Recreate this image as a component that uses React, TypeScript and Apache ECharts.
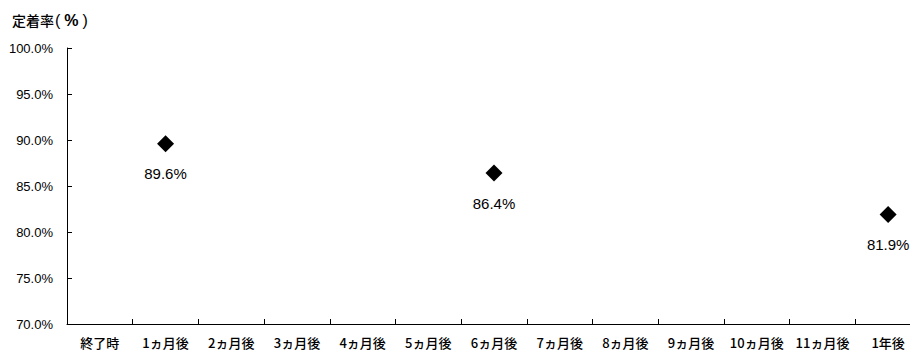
import React, { useEffect, useRef } from "react";
import * as echarts from "echarts";

// Follow-up points along the horizontal axis
const categories = [
  "終了時",
  "1ヵ月後",
  "2ヵ月後",
  "3ヵ月後",
  "4ヵ月後",
  "5ヵ月後",
  "6ヵ月後",
  "7ヵ月後",
  "8ヵ月後",
  "9ヵ月後",
  "10ヵ月後",
  "11ヵ月後",
  "1年後",
];

// Measured retention rates (%)
const measuredAt = ["1ヵ月後", "6ヵ月後", "1年後"];
const retentionRates = [89.6, 86.4, 81.9];

const yMin = 70;
const yMax = 100;
const yStep = 5;

const LATIN = "'Liberation Sans', Arial, sans-serif";
const CJK = "'Noto Sans CJK JP', 'Liberation Sans', sans-serif";

export default function App() {
  const ref = useRef<HTMLDivElement>(null);

  useEffect(() => {
    if (!ref.current) return;
    const chart = echarts.init(ref.current, undefined, { renderer: "svg" });
    chart.setOption({
      animation: false,
      backgroundColor: "#ffffff",
      grid: { left: 67, right: 0, top: 48, bottom: 27 },
      graphic: [
        {
          type: "text",
          x: 12,
          y: 20,
          style: {
            text: "{t|定着率}{o|(}{p|%}{c|)}",
            fill: "#000",
            textVerticalAlign: "middle",
            rich: {
              t: { fontFamily: CJK, fontSize: 14, fontWeight: 500, fill: "#000" },
              o: { fontFamily: LATIN, fontSize: 16, fill: "#000", padding: [0, 3, 0, 1] },
              p: { fontFamily: LATIN, fontSize: 16, fontWeight: "bold", fill: "#000", padding: [0, 1] },
              c: { fontFamily: LATIN, fontSize: 16, fill: "#000", padding: [0, 0, 0, 3] },
            },
          },
        },
      ],
      xAxis: {
        type: "category",
        data: categories,
        boundaryGap: true,
        axisLine: { lineStyle: { color: "#000", width: 1 } },
        axisTick: { show: true, inside: true, length: 5, interval: 0, lineStyle: { color: "#000", width: 1 } },
        axisLabel: {
          interval: 0,
          margin: 12,
          color: "#000",
          fontSize: 13,
          fontWeight: 500,
          fontFamily: CJK,
        },
        splitLine: { show: false },
      },
      yAxis: {
        type: "value",
        min: yMin,
        max: yMax,
        interval: yStep,
        axisLine: { show: true, lineStyle: { color: "#000", width: 1 } },
        axisTick: { show: true, inside: true, length: 5, lineStyle: { color: "#000", width: 1 } },
        axisLabel: {
          margin: 14,
          color: "#000",
          fontSize: 13,
          fontFamily: LATIN,
          formatter: (v: number) => `${v.toFixed(1)}%`,
        },
        splitLine: { show: false },
      },
      series: [
        {
          type: "scatter",
          symbol: "diamond",
          symbolSize: 17,
          itemStyle: { color: "#000", opacity: 1 },
          data: measuredAt.map((c, i) => [c, retentionRates[i]]),
          label: {
            show: true,
            position: "bottom",
            distance: 14,
            color: "#000",
            fontSize: 15,
            fontFamily: LATIN,
            formatter: (p: any) => `${(p.value[1] as number).toFixed(1)}%`,
          },
        },
      ],
    });
    return () => chart.dispose();
  }, []);

  return (
    <div
      ref={ref}
      style={{ position: "fixed", left: 0, top: 0, width: 921, height: 351, background: "#fff" }}
    />
  );
}
